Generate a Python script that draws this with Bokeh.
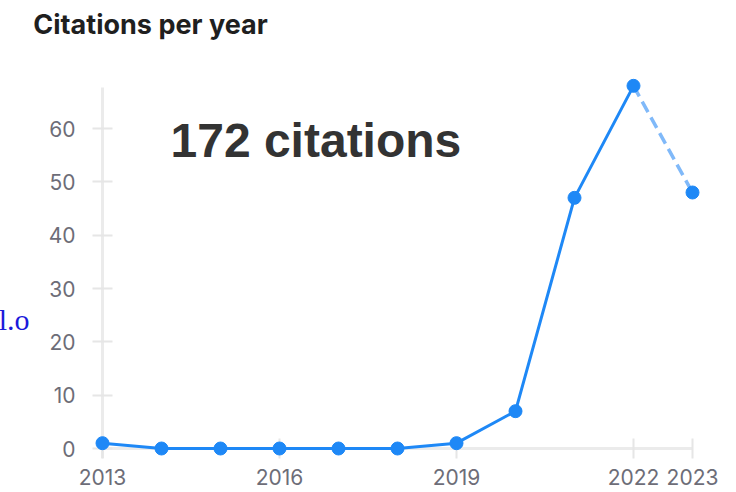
from bokeh.plotting import figure
from bokeh.models import Range1d, FixedTicker, Label, LinearAxis
from bokeh.embed import file_html
from bokeh.resources import INLINE

# ---- data ----
years = [2013, 2014, 2015, 2016, 2017, 2018, 2019, 2020, 2021, 2022, 2023]
citations = [1, 0, 0, 0, 0, 0, 1, 7, 47, 68, 48]
x_ticks = [2013, 2016, 2019, 2022, 2023]
y_ticks = [0, 10, 20, 30, 40, 50, 60]
title_text = "Citations per year"
total_text = "172 citations"
stray_text = "l.o"

# ---- layout (pixels, page coordinates) ----
SHIFT = 6                                # canvas starts 6px left of the page edge
W, H = 736 + SHIFT, 492
FL, FR, FT, FB = 92, 712, 70, 458        # frame edges (page px)
X0_PX, PX_PER_YEAR = 102, 59.0           # where the first year sits
Y0_PX, PX_PER_UNIT = 448, 16.0 / 3.0     # where 0 sits

x_start = years[0] - (X0_PX - FL) / PX_PER_YEAR
x_end = years[0] + (FR - X0_PX) / PX_PER_YEAR
y_start = -(FB - Y0_PX) / PX_PER_UNIT
y_end = (Y0_PX - FT) / PX_PER_UNIT

def dx(px):
    return years[0] + (px - X0_PX) / PX_PER_YEAR

def dy(py):
    return (Y0_PX - py) / PX_PER_UNIT

p = figure(width=W, height=H, output_backend="svg", toolbar_location=None,
           x_range=Range1d(x_start, x_end), y_range=Range1d(y_start, y_end),
           min_border_left=FL + SHIFT, min_border_right=736 - FR,
           min_border_top=FT, min_border_bottom=H - FB)
p.styles = {"position": "absolute", "left": f"-{SHIFT}px", "top": "0px"}
p.outline_line_color = None
p.background_fill_color = "white"
p.border_fill_color = "white"
p.xgrid.visible = False
p.ygrid.visible = False

GRID = "#e6e6e6"
LABEL = "#6d6d78"

for ax in (p.xaxis[0], p.yaxis[0]):
    ax.axis_line_color = None
    ax.minor_tick_line_color = None
    ax.major_tick_line_color = GRID
    ax.major_tick_line_width = 2
    ax.major_tick_in = 20
    ax.major_tick_out = 0
    ax.major_label_text_font = "Inter"
    ax.major_label_text_font_size = "21px"
    ax.major_label_text_color = LABEL

p.xaxis.ticker = FixedTicker(ticks=x_ticks)
p.yaxis.ticker = FixedTicker(ticks=y_ticks)
p.xaxis.major_label_standoff = 10
p.yaxis.major_label_standoff = 17

# chart heading, drawn as the single label of an axis above the plot
title_at = dx(150)
title_axis = LinearAxis(ticker=FixedTicker(ticks=[title_at]),
                        major_label_overrides={title_at: title_text},
                        axis_line_color=None, major_tick_line_color=None,
                        minor_tick_line_color=None, major_tick_in=0,
                        major_tick_out=0, major_label_standoff=30,
                        major_label_text_font="Inter",
                        major_label_text_font_style="bold",
                        major_label_text_font_size="27px",
                        major_label_text_color="#1f1f1f")
p.add_layout(title_axis, "above")

# stray fragment of text at the left edge, placed as an extra axis label
stray_at = dy(319)
stray_axis = LinearAxis(ticker=FixedTicker(ticks=[stray_at]),
                        major_label_overrides={stray_at: stray_text},
                        axis_line_color=None, major_tick_line_color=None,
                        minor_tick_line_color=None, major_tick_in=0,
                        major_tick_out=0, major_label_standoff=16,
                        major_label_text_font="Liberation Serif",
                        major_label_text_font_size="30px",
                        major_label_text_color="#1a1adb")
p.add_layout(stray_axis, "left")

# axis lines
p.segment(x0=[years[0]], y0=[y_start], x1=[years[0]], y1=[dy(87)],
          line_color="#ebebeb", line_width=3, level="underlay")
p.segment(x0=[years[0]], y0=[0], x1=[years[-1]], y1=[0],
          line_color="#ebebeb", line_width=3, level="underlay")

BLUE = "#1e88f6"
p.line(years[:-1], citations[:-1], line_color=BLUE, line_width=3,
       level="overlay")
p.line(years[-2:], citations[-2:], line_color="#80b9f9", line_width=3.5,
       line_dash="12 6", level="overlay")
p.scatter(years, citations, size=13, fill_color=BLUE, line_color=BLUE,
          level="overlay")

p.add_layout(Label(x=dx(170), y=dy(140), text=total_text,
                   text_font="Liberation Sans", text_font_style="bold",
                   text_font_size="48px", text_color="#333333",
                   text_baseline="alphabetic", text_align="left"))

open("out.html", "w").write(file_html(p, INLINE))
